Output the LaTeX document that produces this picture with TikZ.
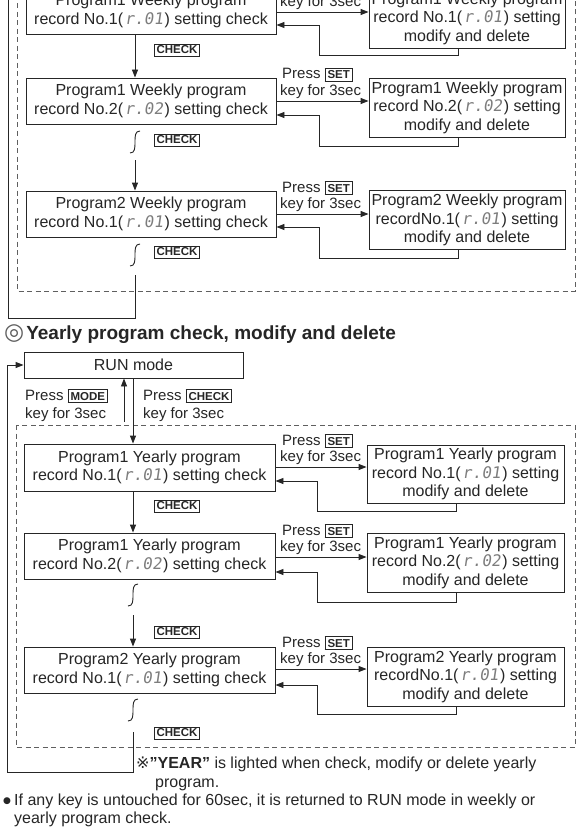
\documentclass[tikz,border=0pt]{standalone}
\usepackage{fontspec}
\setmainfont{Liberation Sans}
\newfontfamily\symfont{DejaVu Sans}
\newfontfamily\segfont{DejaVu Sans Mono}[FakeSlant=0.15]
\usetikzlibrary{arrows.meta,calc}
\definecolor{ink}{RGB}{38,38,38}
\definecolor{dashc}{RGB}{95,95,95}
\definecolor{segc}{RGB}{125,125,125}
\newcommand{\seg}[1]{\hspace{1.5pt}{\segfont\color{segc}#1}\hspace{1.5pt}}
\newcommand{\keycap}[1]{{\fboxsep=2pt\fboxrule=0.8pt\fbox{\fontsize{11.5}{11.5}\selectfont\bfseries #1}}}
\newcommand{\squig}[2]{\draw[ln] (#1+5,#2) .. controls (#1,#2) and (#1,#2+5) .. (#1,#2+11) .. controls (#1,#2+17) and (#1,#2+22) .. (#1-5,#2+22);}
\tikzset{
  box/.style={draw=ink, line width=0.9pt, align=center, inner sep=0pt, text=ink, font=\fontsize{16}{18.5}\selectfont},
  lbox/.style={box, minimum width=250pt, minimum height=46pt},
  rbox/.style={box, minimum width=196pt, minimum height=59pt},
  arr/.style={draw=ink, line width=0.9pt, -{Triangle[length=8pt,width=6pt]}},
  ln/.style={draw=ink, line width=0.9pt},
  dbox/.style={draw=dashc, line width=0.8pt, dash pattern=on 5pt off 3.5pt},
  ck/.style={draw=ink, line width=0.8pt, inner sep=2pt, font=\fontsize{11.5}{11.5}\selectfont\bfseries, text=ink},
  lab/.style={inner sep=0pt, text=ink, anchor=base west, font=\fontsize{15}{17}\selectfont},
  note/.style={inner sep=0pt, text=ink, anchor=base west, font=\fontsize{16}{18}\selectfont},
}
\begin{document}
\begin{tikzpicture}[x=1pt,y=-1pt]
\useasboundingbox (0,0) rectangle (588,832);
\clip (0,0) rectangle (588,832);
\fill[white] (0,0) rectangle (588,832);

% ===== Weekly section (top, cut) =====
\draw[dbox] (17,-5) -- (17,291) -- (575,291) -- (575,-5);

\node[lbox] (W1) at (151,11) {Program1 Weekly program\\record No.1(\seg{r.01}) setting check};
\node[lbox] (W2) at (151,101) {Program1 Weekly program\\record No.2(\seg{r.02}) setting check};
\node[lbox] (W3) at (151,214) {Program2 Weekly program\\record No.1(\seg{r.01}) setting check};

\node[rbox] (WR1) at (467,18.5) {Program1 Weekly program\\record No.1(\seg{r.01}) setting\\modify and delete};
\node[rbox] (WR2) at (467,107.5) {Program1 Weekly program\\record No.2(\seg{r.02}) setting\\modify and delete};
\node[rbox] (WR3) at (467,220) {Program2 Weekly program\\recordNo.1(\seg{r.01}) setting\\modify and delete};

% forward arrows and labels
\draw[arr] (W1.east |- 0,12) -- (WR1.west |- 0,12);
\draw[arr] (W2.east |- 0,101) -- (WR2.west |- 0,101);
\draw[arr] (W3.east |- 0,214) -- (WR3.west |- 0,214);
\node[lab] (wk1) at (280,6.5) {key for 3sec};
\node[lab] (wp2) at (282,79) {Press \keycap{SET}};
\node[lab] (wk2) at (280,95.5) {key for 3sec};
\node[lab] (wp3) at (282,192) {Press \keycap{SET}};
\node[lab] (wk3) at (280,208.5) {key for 3sec};

% return arrows
\draw[arr] (WR1.south -| 458,0) -- (458,55) -- (319,55) -- (319,25) -- (W1.east |- 0,25);
\draw[arr] (WR2.south -| 458,0) -- (458,146) -- (319,146) -- (319,115) -- (W2.east |- 0,115);
\draw[arr] (WR3.south -| 458,0) -- (458,258) -- (319,258) -- (319,227) -- (W3.east |- 0,227);

% check arrows
\draw[arr] (W1.south -| 135,0) -- (W2.north -| 135,0);
\node[ck] (wc1) at (177,50) {CHECK};
\squig{135}{131}
\node[ck] (wc2) at (177,140) {CHECK};
\draw[arr] (135,160) -- (W3.north -| 135,0);
\squig{135}{244}
\node[ck] (wc3) at (177,252) {CHECK};
\draw[ln] (135,275) -- (135,318) -- (8,318) -- (8,-5);

% ===== Yearly heading =====
\node[anchor=base west, inner sep=0pt, text=ink, font=\fontsize{19}{22}\selectfont\bfseries] (head) at (4,339)
  {{\symfont\mdseries\fontsize{23}{23}\selectfont\color{dashc}◎}\hspace{2pt}Yearly program check, modify and delete};

% ===== Yearly section =====
\node[box, minimum width=219pt, minimum height=26pt] (RUN) at (133.5,365) {RUN mode};
\draw[dbox] (16,425) -- (16,747) -- (575,747) -- (575,425) -- cycle;

\node[lbox, minimum width=251pt, minimum height=47pt] (Y1) at (149.5,467.5) {Program1 Yearly program\\record No.1(\seg{r.01}) setting check};
\node[lbox, minimum width=251pt] (Y2) at (149.5,556) {Program1 Yearly program\\record No.2(\seg{r.02}) setting check};
\node[lbox, minimum width=251pt] (Y3) at (149.5,670) {Program2 Yearly program\\record No.1(\seg{r.01}) setting check};

\node[rbox, minimum width=197pt, minimum height=58pt] (YR1) at (465.5,474) {Program1 Yearly program\\record No.1(\seg{r.01}) setting\\modify and delete};
\node[rbox, minimum width=197pt] (YR2) at (465.5,562.5) {Program1 Yearly program\\record No.2(\seg{r.02}) setting\\modify and delete};
\node[rbox, minimum width=197pt, minimum height=59pt] (YR3) at (465.5,676.5) {Program2 Yearly program\\recordNo.1(\seg{r.01}) setting\\modify and delete};

% RUN mode arrows
\draw[arr] (124,422) -- (RUN.south -| 124,0);
\draw[arr] (RUN.south -| 133,0) -- (Y1.north -| 133,0);
\node[lab] (pm) at (25,400) {Press \keycap{MODE}};
\node[lab] (km) at (25,418) {key for 3sec};
\node[lab] (pc) at (143,400) {Press \keycap{CHECK}};
\node[lab] (kc) at (143,418) {key for 3sec};

% forward arrows
\draw[arr] (Y1.east |- 0,467) -- (YR1.west |- 0,467);
\draw[arr] (Y2.east |- 0,557) -- (YR2.west |- 0,557);
\draw[arr] (Y3.east |- 0,669) -- (YR3.west |- 0,669);
\node[lab] (yp1) at (282,445) {Press \keycap{SET}};
\node[lab] (yk1) at (280,461.5) {key for 3sec};
\node[lab] (yp2) at (282,535) {Press \keycap{SET}};
\node[lab] (yk2) at (280,551.5) {key for 3sec};
\node[lab] (yp3) at (282,647) {Press \keycap{SET}};
\node[lab] (yk3) at (280,663.5) {key for 3sec};

% return arrows
\draw[arr] (YR1.south -| 456,0) -- (456,511) -- (317,511) -- (317,481) -- (Y1.east |- 0,481);
\draw[arr] (YR2.south -| 456,0) -- (456,602) -- (317,602) -- (317,572) -- (Y2.east |- 0,572);
\draw[arr] (YR3.south -| 456,0) -- (456,714) -- (317,714) -- (317,685) -- (Y3.east |- 0,685);

% check arrows
\draw[arr] (Y1.south -| 133,0) -- (Y2.north -| 133,0);
\node[ck] (yc1) at (177,506) {CHECK};
\squig{133}{584}
\draw[arr] (133,615) -- (Y3.north -| 133,0);
\node[ck] (yc2) at (177,632) {CHECK};
\squig{133}{699}
\node[ck] (yc3) at (177,733) {CHECK};
\draw[arr] (133,732) -- (133,772) -- (7,772) -- (7,365) -- (RUN.west);

% ===== Notes =====
\node[note] (n1) at (136,768) {{\symfont ※}\textbf{\symbol{34}YEAR\symbol{34}} is lighted when check, modify or delete yearly};
\node[note] (n2) at (155,787) {program.};
\node[note, font=\fontsize{9}{9}\selectfont] (bul) at (3,803) {{\symfont ●}};
\node[note] (n3) at (14,805) {If any key is untouched for 60sec, it is returned to RUN mode in weekly or};
\node[note] (n4) at (14,823) {yearly program check.};
\end{tikzpicture}
\end{document}
